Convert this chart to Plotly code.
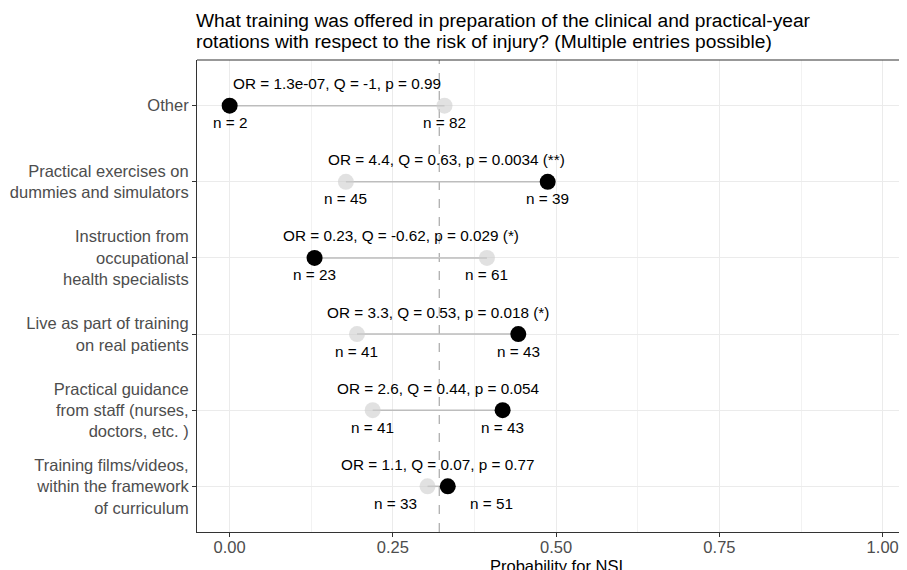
import plotly.graph_objects as go

# ---- data ----
categories = [
    "Other",
    "Practical exercises on<br>dummies and simulators",
    "Instruction from<br>occupational<br>health specialists",
    "Live as part of training<br>on real patients",
    "Practical guidance<br>from staff (nurses,<br>doctors, etc. )",
    "Training films/videos,<br>within the framework<br>of curriculum",
]
p_not_offered = [0.329, 0.178, 0.394, 0.195, 0.219, 0.303]   # grey points
p_offered = [0.0, 0.487, 0.130, 0.442, 0.418, 0.334]         # black points
n_not_offered = [82, 45, 61, 41, 41, 33]
n_offered = [2, 39, 23, 43, 43, 51]
stat_labels = [
    "OR = 1.3e-07, Q = -1, p = 0.99",
    "OR = 4.4, Q = 0.63, p = 0.0034 (**)",
    "OR = 0.23, Q = -0.62, p = 0.029 (*)",
    "OR = 3.3, Q = 0.53, p = 0.018 (*)",
    "OR = 2.6, Q = 0.44, p = 0.054",
    "OR = 1.1, Q = 0.07, p = 0.77",
]
overall_p = 0.321
x_ticks = [0, 0.25, 0.5, 0.75, 1.0]
x_ticklabels = ["0.00", "0.25", "0.50", "0.75", "1.00"]
title_lines = [
    "What training was offered in preparation of the clinical and practical-year",
    "rotations with respect to the risk of injury? (Multiple entries possible)",
]
x_title = "Probability for NSI"

# label nudges (pixels) to avoid overlapping n labels
nudge_not = [0, 0, 0, 0, 0, -32]
nudge_off = [0, 0, 0, 0, 0, 44]

# ---- layout geometry (page body has an 8px margin) ----
OFF = 8
W, H = 907 - OFF, 570 - OFF
PLOT_L, PLOT_T, PLOT_B = 196.6, 60.0, 531.7   # target pixel positions in window
ML = PLOT_L - OFF
MT = PLOT_T - OFF
MB = H - (PLOT_B - OFF)
PH = PLOT_B - PLOT_T
PX_PER_UNIT = 653.4
FONT = "Liberation Sans, Arial, Helvetica, sans-serif"

def ppy(py):
    return (PLOT_B - py) / PH

ncat = len(categories)
ypos = [ncat - i for i in range(ncat)]

fig = go.Figure()

seg_x, seg_y = [], []
for a, b, y in zip(p_not_offered, p_offered, ypos):
    seg_x += [a, b, None]
    seg_y += [y, y, None]
fig.add_trace(go.Scatter(x=seg_x, y=seg_y, mode="lines",
                         line=dict(color="#BDBDBD", width=1.5),
                         hoverinfo="skip", showlegend=False))
fig.add_trace(go.Scatter(x=p_not_offered, y=ypos, mode="markers",
                         marker=dict(size=16, color="rgba(205,205,205,0.6)",
                                     line=dict(width=0)),
                         showlegend=False))
fig.add_trace(go.Scatter(x=p_offered, y=ypos, mode="markers",
                         marker=dict(size=16, color="black", line=dict(width=0)),
                         showlegend=False))

AF = 15.3
ann = []
for i, (a, b, y, s, na, nb) in enumerate(zip(p_not_offered, p_offered, ypos, stat_labels,
                                             n_not_offered, n_offered)):
    ann.append(dict(x=(a + b) / 2, y=y, xref="x", yref="y", text=s,
                    showarrow=False, yshift=22, xanchor="center", yanchor="middle",
                    font=dict(size=AF, color="black", family=FONT)))
    ann.append(dict(x=a, y=y, xref="x", yref="y", text=f"n = {na}",
                    showarrow=False, yshift=-17, xshift=nudge_not[i],
                    xanchor="center", yanchor="middle",
                    font=dict(size=AF, color="black", family=FONT)))
    ann.append(dict(x=b, y=y, xref="x", yref="y", text=f"n = {nb}",
                    showarrow=False, yshift=-17, xshift=nudge_off[i],
                    xanchor="center", yanchor="middle",
                    font=dict(size=AF, color="black", family=FONT)))

for py, t in zip([20.8, 41.2], title_lines):
    ann.append(dict(x=0, y=ppy(py), xref="paper", yref="paper", text=t,
                    showarrow=False, xanchor="left", yanchor="middle", xshift=-3,
                    font=dict(size=19.2, color="black", family=FONT)))
ann.append(dict(x=0.5, y=ppy(566), xref="x", yref="paper", text=x_title,
                showarrow=False, xanchor="center", yanchor="middle",
                font=dict(size=16.5, color="black", family=FONT)))

shapes = [
    dict(type="line", xref="x", yref="paper", x0=overall_p, x1=overall_p, y0=0, y1=1,
         line=dict(color="#A8A8A8", width=1.2, dash="dash"), layer="below"),
    dict(type="line", xref="paper", yref="paper", x0=0, x1=1, y0=1, y1=1,
         line=dict(color="#333333", width=1.1), layer="above"),
]

fig.update_layout(
    width=W, height=H,
    margin=dict(l=ML, r=0, t=MT, b=MB, pad=0),
    paper_bgcolor="white", plot_bgcolor="white",
    font=dict(family=FONT),
    annotations=ann, shapes=shapes,
    xaxis=dict(range=[-0.05, -0.05 + (907 - PLOT_L) / PX_PER_UNIT], tickvals=x_ticks,
               ticktext=x_ticklabels, showgrid=True, gridcolor="#EBEBEB", gridwidth=1,
               zeroline=False, showline=True, linecolor="#333333", linewidth=1.1,
               mirror=False, ticks="outside", ticklen=4, ticklabelstandoff=-4,
               tickcolor="#333333", tickfont=dict(size=16.5, color="#4D4D4D", family=FONT),
               minor=dict(tickvals=[0.125, 0.375, 0.625, 0.875], showgrid=True,
                          gridcolor="#F2F2F2", gridwidth=1, ticks=""),
               fixedrange=True),
    yaxis=dict(range=[0.4, ncat + 0.6], tickvals=ypos, ticktext=categories,
               showgrid=True, gridcolor="#EBEBEB", gridwidth=1, zeroline=False,
               showline=True, linecolor="#333333", linewidth=1.1, mirror=False,
               ticks="outside", ticklen=4, tickcolor="#333333",
               tickfont=dict(size=16.5, color="#4D4D4D", family=FONT), fixedrange=True),
)

fig.write_html("out.html")
